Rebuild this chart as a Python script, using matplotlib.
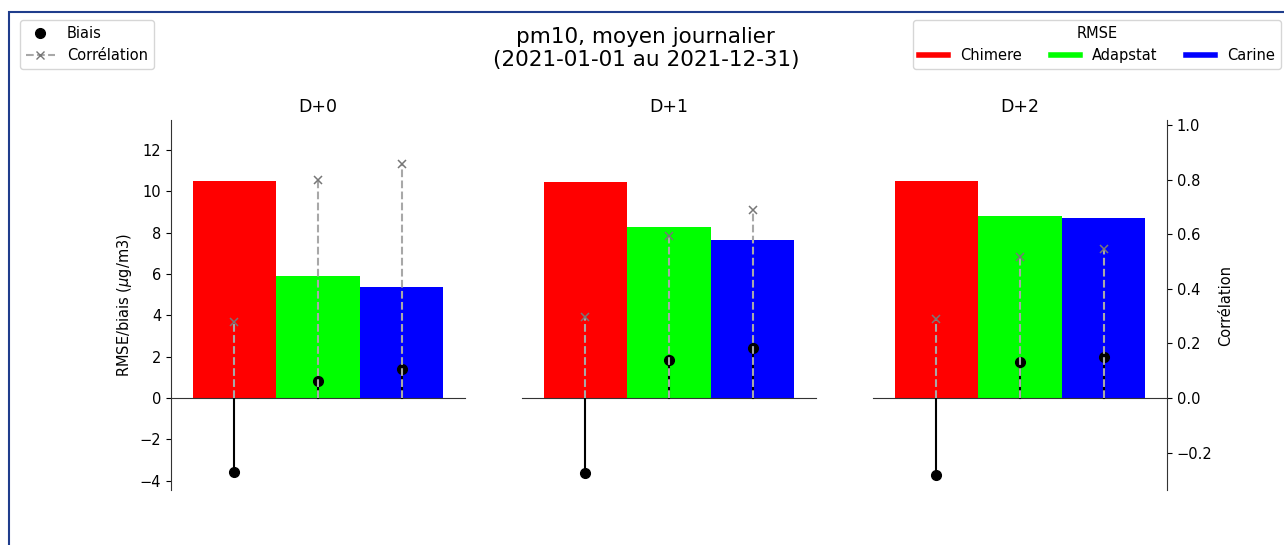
import numpy as np
import matplotlib
matplotlib.use("Agg")
import matplotlib.pyplot as plt
from matplotlib.lines import Line2D
from matplotlib.patches import Rectangle

# Echéances et modèles
echeances = ["D+0", "D+1", "D+2"]
modeles = ["Chimere", "Adapstat", "Carine"]
couleurs = ["#ff0000", "#00ff00", "#0000ff"]

# RMSE par modèle (une valeur par échéance)
rmse_chimere = [10.51, 10.47, 10.50]
rmse_adapstat = [5.92, 8.29, 8.82]
rmse_carine = [5.39, 7.64, 8.69]

# Biais par modèle
biais_chimere = [-3.56, -3.64, -3.73]
biais_adapstat = [0.84, 1.84, 1.73]
biais_carine = [1.40, 2.40, 1.97]

# Corrélation par modèle
corr_chimere = [0.278, 0.298, 0.290]
corr_adapstat = [0.800, 0.593, 0.518]
corr_carine = [0.857, 0.689, 0.545]

rmse = [rmse_chimere, rmse_adapstat, rmse_carine]
biais = [biais_chimere, biais_adapstat, biais_carine]
corr = [corr_chimere, corr_adapstat, corr_carine]

FS = 10.5

W, H = 1284, 545
fig = plt.figure(figsize=(W / 100, H / 100), dpi=100)

# cadre bleu autour de la figure
fig.patches.append(Rectangle((9 / W, -0.1), 1.2, 1 - 12 / H + 0.1,
                             transform=fig.transFigure, fill=False,
                             edgecolor="#1f3d8c", linewidth=1.5))

ylim_g = (-4.45, 13.45)
ratio = 13.2
ylim_d = (ylim_g[0] / ratio, ylim_g[1] / ratio)

lefts = [171, 522, 873]
bottom, top = 490, 120
x = np.arange(len(modeles))

for i, ech in enumerate(echeances):
    ax = fig.add_axes([lefts[i] / W, 1 - bottom / H, 294 / W, (bottom - top) / H])
    ax2 = ax.twinx()

    for j in range(len(modeles)):
        ax.bar(x[j], rmse[j][i], width=1.0, color=couleurs[j], zorder=1)
        # biais : tige noire + point
        ax.plot([x[j], x[j]], [0, biais[j][i]], color="black", lw=1.5, zorder=3)
        ax.plot(x[j], biais[j][i], "o", color="black", ms=7, zorder=3)
        # corrélation : tige grise pointillée + croix
        ax2.plot([x[j], x[j]], [0, corr[j][i]], color="#a8a8a8", lw=1.5,
                 ls="--", zorder=4)
        ax2.plot(x[j], corr[j][i], "x", color="#777777", ms=6, mew=1.1, zorder=4)

    ax.set_xlim(-0.76, 2.76)
    ax.set_ylim(*ylim_g)
    ax2.set_ylim(*ylim_d)
    ax.set_title(ech, fontsize=12.5)
    ax.set_xticks([])

    ax.spines["top"].set_visible(False)
    ax.spines["right"].set_visible(False)
    ax.spines["bottom"].set_position(("data", 0))
    ax2.spines["top"].set_visible(False)
    ax2.spines["left"].set_visible(False)
    ax2.spines["bottom"].set_visible(False)
    for s in list(ax.spines.values()) + list(ax2.spines.values()):
        s.set_color("#333333")

    if i == 0:
        ax.set_yticks(np.arange(-4, 13, 2))
        ax.set_ylabel(r"RMSE/biais ($\mu$g/m3)", fontsize=FS)
    else:
        ax.spines["left"].set_visible(False)
        ax.set_yticks([])

    if i == len(echeances) - 1:
        ax2.set_yticks([-0.2, 0.0, 0.2, 0.4, 0.6, 0.8, 1.0])
        ax2.set_ylabel("Corrélation", fontsize=FS)
    else:
        ax2.spines["right"].set_visible(False)
        ax2.set_yticks([])

    ax.tick_params(labelsize=FS)
    ax2.tick_params(labelsize=FS)

fig.suptitle("pm10, moyen journalier\n(2021-01-01 au 2021-12-31)",
             fontsize=15.5, x=0.503, y=1 - 27 / H, va="top")

# légende des marqueurs
handles_m = [
    Line2D([], [], color="black", marker="o", ls="none", ms=7),
    Line2D([], [], color="#a8a8a8", marker="x", ls="--", ms=6,
           markeredgecolor="#777777"),
]
fig.legend(handles_m, ["Biais", "Corrélation"], loc="upper left",
           bbox_to_anchor=(20 / W, 1 - 20 / H), fontsize=FS, borderaxespad=0)

# légende RMSE
handles_r = [Line2D([], [], color=c, lw=4) for c in couleurs]
fig.legend(handles_r, modeles, title="RMSE", ncol=3, loc="upper left",
           bbox_to_anchor=(913 / W, 1 - 20 / H), fontsize=FS,
           title_fontsize=FS, borderaxespad=0)

fig.savefig("out.png", dpi=100)
